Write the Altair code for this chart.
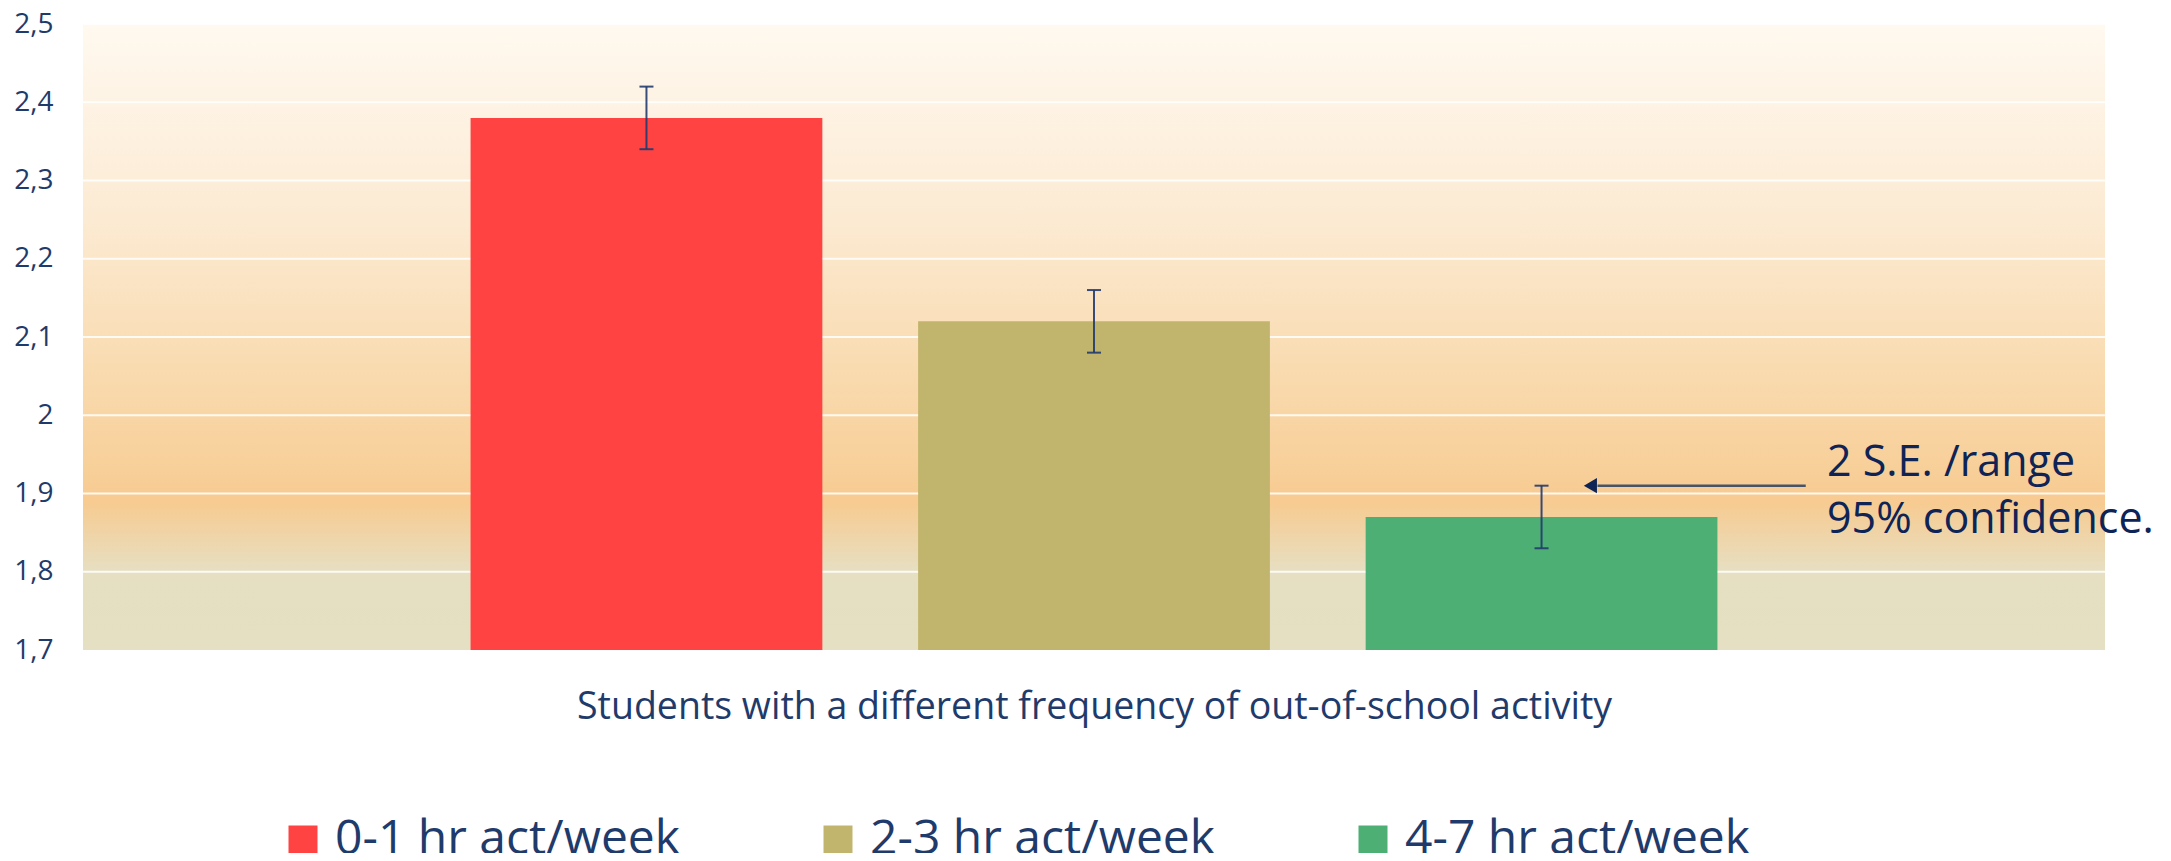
import altair as alt
import pandas as pd

# ---- data ----
series = ["0-1 hr act/week", "2-3 hr act/week", "4-7 hr act/week"]
means = [2.38, 2.12, 1.87]
err_low = [2.34, 2.08, 1.83]
err_high = [2.42, 2.16, 1.91]
colors = ["#FF4242", "#C1B46C", "#4DAF73"]
y_ticks = [1.7, 1.8, 1.9, 2.0, 2.1, 2.2, 2.3, 2.4, 2.5]
grid_values = [1.8, 1.9, 2.0, 2.1, 2.2, 2.3, 2.4, 2.5]
x_title = "Students with a different frequency of out-of-school activity"
y_base = 1.7

note_lines = ["2 S.E. /range", "95% confidence."]
note_x = [0.8625, 0.8625]
note_y = [1.923, 1.850]
arrow_start = [0.852]
arrow_end = [0.749]
arrow_head_x = [0.7455]
arrow_y = [1.91]

# ---- styling ----
W, H = 2022, 626
FONT = "Open Sans"
NAVY = "#1F3B6B"
DARK = "#0E2356"
ERR = "#223B6E"

bars_df = pd.DataFrame({"series": series, "mean": means, "lo": err_low, "hi": err_high})
grid_df = pd.DataFrame({"v": grid_values})
note_df = pd.DataFrame({"x": note_x, "y": note_y, "t": note_lines})
arrow_df = pd.DataFrame({"x1": arrow_start, "x2": arrow_end, "y": arrow_y, "hx": arrow_head_x})

xs = alt.Scale(domain=series, paddingInner=0.214, paddingOuter=0.866)
ys = alt.Scale(domain=[y_ticks[0], y_ticks[-1]], nice=False, zero=False)
fx = alt.Scale(domain=[0, 1])

x_axis = alt.Axis(title=x_title, labels=False, ticks=False, domain=False, grid=False,
                  titleFont=FONT, titleFontSize=37.5, titleFontWeight="normal",
                  titleColor=NAVY, titlePadding=68, titleBaseline="alphabetic")
y_axis = alt.Axis(values=y_ticks, title=None, grid=False, ticks=False, domain=False,
                  labelExpr="replace(format(datum.value, '.1~f'), '.', ',')",
                  labelFont=FONT, labelFontSize=28, labelColor=NAVY, labelPadding=30)


def X(field):
    return alt.X(field, type="nominal", scale=xs, sort=series, axis=x_axis, title=x_title)


def Y(field):
    return alt.Y(field, type="quantitative", scale=ys, axis=y_axis, title=None)


bg = alt.Chart(pd.DataFrame({"a": [0]})).mark_rect(
    color=alt.Gradient(
        gradient="linear",
        stops=[
            alt.GradientStop(offset=0.0, color="#FFF9F0"),
            alt.GradientStop(offset=0.3, color="#FCEBD4"),
            alt.GradientStop(offset=0.55, color="#F9DBB0"),
            alt.GradientStop(offset=0.765, color="#F7CB91"),
            alt.GradientStop(offset=0.875, color="#E6DFC2"),
            alt.GradientStop(offset=1.0, color="#E5E0C3"),
        ],
        x1=0, x2=0, y1=0, y2=1,
    )
).encode(x=alt.value(0), x2=alt.value(W), y=alt.value(0), y2=alt.value(H))

grid = alt.Chart(grid_df).mark_rule(color="#FFFFFF", strokeWidth=2, opacity=0.85).encode(
    y=Y("v"), x=alt.value(0), x2=alt.value(W)
)

bars = alt.Chart(bars_df).mark_bar().encode(
    x=X("series"),
    y=Y("mean"),
    y2=alt.datum(y_base),
    color=alt.Color("series:N", scale=alt.Scale(domain=series, range=colors),
                    legend=alt.Legend(orient="none", legendX=196, legendY=792,
                                      direction="horizontal", title=None,
                                      symbolType="square", symbolSize=841,
                                      symbolStrokeWidth=0, labelFont=FONT,
                                      labelFontSize=48, labelColor=NAVY,
                                      labelOffset=8, columnPadding=133,
                                      padding=0, labelLimit=0)),
)

err = alt.Chart(bars_df).mark_rule(color=ERR, strokeWidth=2, opacity=0.9).encode(
    x=X("series"), y=Y("lo"), y2="hi:Q"
)
cap_lo = alt.Chart(bars_df).mark_tick(color=ERR, size=14, thickness=2, opacity=0.9).encode(
    x=X("series"), y=Y("lo")
)
cap_hi = alt.Chart(bars_df).mark_tick(color=ERR, size=14, thickness=2, opacity=0.9).encode(
    x=X("series"), y=Y("hi")
)

main = alt.layer(bars, err, cap_lo, cap_hi)

arrow_line = alt.Chart(arrow_df).mark_rule(color="#44546A", strokeWidth=2.5).encode(
    x=alt.X("x1:Q", scale=fx, axis=None), x2="x2:Q",
    y=Y("y")
)
arrow_head = alt.Chart(arrow_df).mark_point(shape="triangle-left", filled=True, size=230,
                                            color=DARK, opacity=1).encode(
    x=alt.X("hx:Q", scale=fx, axis=None),
    y=Y("y")
)
note = alt.Chart(note_df).mark_text(align="left", baseline="alphabetic", font=FONT,
                                    fontSize=43, color=DARK).encode(
    x=alt.X("x:Q", scale=fx, axis=None),
    y=Y("y"),
    text="t:N"
)
annot = alt.layer(arrow_line, arrow_head, note)

chart = alt.layer(bg, grid, main, annot).resolve_scale(x="independent").properties(
    width=W, height=H,
    autosize=alt.AutoSizeParams(type="none"),
    padding={"left": 75, "top": 16, "right": 58, "bottom": 203},
    background="white",
).configure_view(stroke=None)

chart.save("out.html", embed_options={"renderer": "svg", "actions": False})
